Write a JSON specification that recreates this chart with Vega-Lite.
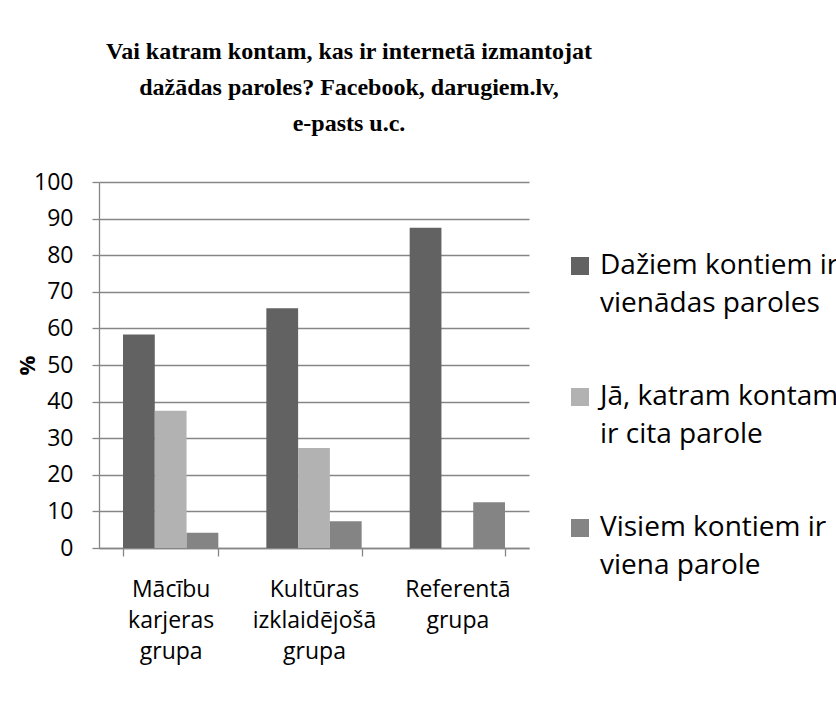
{
  "$schema": "https://vega.github.io/schema/vega-lite/v6.json",
  "width": 430,
  "height": 366,
  "autosize": {"type": "none"},
  "padding": {"left": 99, "top": 182, "right": 307, "bottom": 156},
  "background": "white",
  "title": {
    "text": ["Vai katram kontam, kas ir internetā izmantojat", "dažādas paroles? Facebook, darugiem.lv,", "e-pasts u.c."],
    "font": "Liberation Serif",
    "fontSize": 24,
    "fontWeight": "bold",
    "lineHeight": 36,
    "anchor": "middle",
    "frame": "group",
    "dx": 35,
    "offset": 35,
    "color": "black"
  },
  "data": {
    "values": [
      {"grupa": "Mācību karjeras grupa", "atbilde": "Dažiem kontiem ir vienādas paroles", "procenti": 58.3},
      {"grupa": "Mācību karjeras grupa", "atbilde": "Jā, katram kontam ir cita parole", "procenti": 37.5},
      {"grupa": "Mācību karjeras grupa", "atbilde": "Visiem kontiem ir viena parole", "procenti": 4.2},
      {"grupa": "Kultūras izklaidējošā grupa", "atbilde": "Dažiem kontiem ir vienādas paroles", "procenti": 65.5},
      {"grupa": "Kultūras izklaidējošā grupa", "atbilde": "Jā, katram kontam ir cita parole", "procenti": 27.3},
      {"grupa": "Kultūras izklaidējošā grupa", "atbilde": "Visiem kontiem ir viena parole", "procenti": 7.3},
      {"grupa": "Referentā grupa", "atbilde": "Dažiem kontiem ir vienādas paroles", "procenti": 87.5},
      {"grupa": "Referentā grupa", "atbilde": "Jā, katram kontam ir cita parole", "procenti": 0},
      {"grupa": "Referentā grupa", "atbilde": "Visiem kontiem ir viena parole", "procenti": 12.5}
    ]
  },
  "mark": {"type": "bar"},
  "encoding": {
    "x": {
      "field": "grupa",
      "type": "nominal",
      "sort": ["Mācību karjeras grupa", "Kultūras izklaidējošā grupa", "Referentā grupa"],
      "scale": {"paddingInner": 0.335, "paddingOuter": 0.1675},
      "axis": {
        "title": null,
        "labelAngle": 0,
        "labelExpr": "split(datum.label, ' ')",
        "tickBand": "extent",
        "tickSize": 8,
        "tickColor": "#868686",
        "tickWidth": 1.3,
        "domainColor": "#868686",
        "domainWidth": 1.3,
        "labelFont": "Open Sans",
        "labelFontSize": 23,
        "labelColor": "black",
        "labelPadding": 22,
        "labelLineHeight": 31,
        "grid": false
      }
    },
    "xOffset": {
      "field": "atbilde",
      "type": "nominal",
      "sort": ["Dažiem kontiem ir vienādas paroles", "Jā, katram kontam ir cita parole", "Visiem kontiem ir viena parole"],
      "scale": {"paddingInner": 0, "paddingOuter": 0}
    },
    "y": {
      "field": "procenti",
      "type": "quantitative",
      "scale": {"domain": [0, 100], "nice": false},
      "axis": {
        "title": "%",
        "titleFont": "Open Sans",
        "titleFontSize": 22,
        "titleFontWeight": "bold",
        "titleColor": "black",
        "titlePadding": -6,
        "values": [0, 10, 20, 30, 40, 50, 60, 70, 80, 90, 100],
        "labelFont": "Open Sans",
        "labelFontSize": 23,
        "labelColor": "black",
        "labelPadding": 19,
        "tickSize": 7,
        "tickColor": "#868686",
        "tickWidth": 1.3,
        "domainColor": "#868686",
        "domainWidth": 1.3,
        "gridColor": "#868686",
        "gridWidth": 1.3
      }
    },
    "color": {
      "field": "atbilde",
      "type": "nominal",
      "sort": ["Dažiem kontiem ir vienādas paroles", "Jā, katram kontam ir cita parole", "Visiem kontiem ir viena parole"],
      "scale": {"range": ["#626262", "#b2b2b2", "#848484"]},
      "legend": {
        "title": null,
        "orient": "none",
        "legendX": 467,
        "legendY": 70,
        "padding": 0,
        "rowPadding": 65,
        "symbolType": "square",
        "symbolSize": 324,
        "symbolStrokeWidth": 0,
        "symbolOpacity": 1,
        "labelFont": "Open Sans",
        "labelFontSize": 28,
        "labelColor": "black",
        "labelOffset": 6,
        "labelLimit": 400,
        "labelExpr": "datum.label == 'Dažiem kontiem ir vienādas paroles' ? ['Dažiem kontiem ir', 'vienādas paroles'] : datum.label == 'Jā, katram kontam ir cita parole' ? ['Jā, katram kontam', 'ir cita parole'] : ['Visiem kontiem ir', 'viena parole']",
        "encode": {"labels": {"update": {"lineHeight": {"value": 38}}}}
      }
    }
  },
  "config": {"view": {"stroke": null}}
}
